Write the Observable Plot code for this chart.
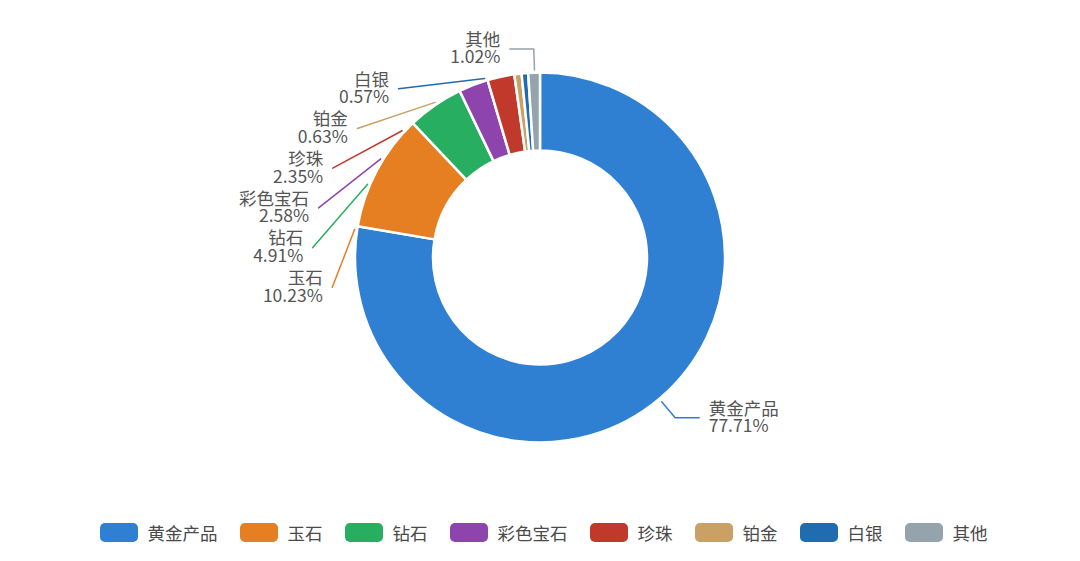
<!DOCTYPE html>
<html>
<head>
<meta charset="utf-8">
<script src="https://cdn.jsdelivr.net/npm/d3@7"></script>
<script src="https://cdn.jsdelivr.net/npm/@observablehq/plot@0.6"></script>
<style>
html, body { margin: 0; padding: 0; background: #fff; }
body { width: 1080px; height: 561px; overflow: hidden; font-family: "Noto Sans CJK SC", "Noto Sans", sans-serif; }
#chart svg { display: block; }
#legend { display: flex; justify-content: center; align-items: center; height: 44px; gap: 22px; padding-left: 7px; font-size: 17.5px; color: #4a4a4a; }
.item { display: flex; align-items: center; gap: 10px; }
.sw { width: 38px; height: 19px; border-radius: 5px; }
</style>
</head>
<body>
<div id="chart"></div>
<div id="legend"></div>
<script>
// ---- data ----
const names = ["黄金产品", "玉石", "钻石", "彩色宝石", "珍珠", "铂金", "白银", "其他"];
const shares = [77.71, 10.23, 4.91, 2.58, 2.35, 0.63, 0.57, 1.02];
const colors = ["#2f7fd2", "#e67e22", "#27ae60", "#8e44ad", "#c0392b", "#c9a165", "#1f6db0", "#95a3ac"];

// ---- layout constants ----
const W = 1080, H = 510, CY = 257.5;
const R = 185, R0 = 107, LEN = 24, LEN2 = 24, DIST = 5, TEXT_GAP = 9.5, GAP = 3, STEP = 39.7;
const fmt = d3.format(".2f");

const arcs = d3.pie().sort(null).value(d => d)(shares);
const items = arcs.map((p, i) => {
  const a = (p.startAngle + p.endAngle) / 2;
  const sx = Math.sin(a), sy = -Math.cos(a);
  const dir = sx >= 0 ? 1 : -1;
  const ex = (R + LEN) * sx, ey = (R + LEN) * sy;
  return {i, name: names[i], dir, sx, sy, mx: R * sx, my: R * sy, ex, ey,
    x3: ex + dir * LEN2, labelX: ex + dir * (LEN2 + DIST), labelY: ey, moved: false};
});

// shift overlapping labels vertically, then realign x on an ellipse
for (const dir of [-1, 1]) {
  const list = items.filter(d => d.dir === dir).sort((a, b) => a.labelY - b.labelY);
  let shifted = false;
  for (let k = 1; k < list.length; k++) {
    const min = list[k - 1].labelY + STEP;
    if (list[k].labelY < min) { list[k].labelY = min; list[k].moved = true; shifted = true; }
  }
  if (!shifted) continue;
  const rA = R + LEN;
  const semis = [{list: [], maxY: 0, rB: rA}, {list: [], maxY: 0, rB: rA}];
  for (const it of list) {
    const semi = semis[it.labelY > 0 ? 1 : 0];
    const dy = Math.abs(it.labelY);
    if (dy >= semi.maxY) {
      const dx = it.labelX - dir * LEN2;
      semi.rB = Math.abs(dx) < rA ? Math.sqrt(dy * dy / (1 - dx * dx / (rA * rA))) : rA;
      semi.maxY = dy;
    }
    semi.list.push(it);
  }
  for (const semi of semis) for (const it of semi.list) {
    const dy = Math.abs(it.labelY);
    const dx = Math.sqrt(Math.max(0, 1 - dy * dy / (semi.rB * semi.rB))) * rA;
    it.labelX = dir * (dx + LEN2);
    it.x3 = it.labelX - dir * DIST;
  }
}

// leader lines
const lineData = [];
for (const it of items) {
  const name = it.name;
  if (it.moved) {
    const P = [it.x3, it.labelY], D = [it.mx - P[0], it.my - P[1]];
    const rho = R + GAP;
    const a = D[0] * D[0] + D[1] * D[1];
    const b = 2 * (P[0] * D[0] + P[1] * D[1]);
    const c = P[0] * P[0] + P[1] * P[1] - rho * rho;
    const t = (-b - Math.sqrt(Math.max(0, b * b - 4 * a * c))) / (2 * a);
    lineData.push({name, x: P[0] + t * D[0], y: P[1] + t * D[1]}, {name, x: P[0], y: P[1]});
  } else {
    lineData.push({name, x: (R + GAP) * it.sx, y: (R + GAP) * it.sy},
                  {name, x: it.ex, y: it.ey},
                  {name, x: it.x3, y: it.labelY});
  }
}

function slicesMark(index, scales) {
  const x = scales.x, y = scales.y;
  const k = x(1) - x(0);
  const arc = d3.arc().innerRadius(R0 * k).outerRadius(R * k);
  const g = d3.create("svg:g").attr("transform", `translate(${x(0)},${y(0)})`);
  g.selectAll("path").data(arcs).join("path")
    .attr("d", arc)
    .attr("fill", d => scales.color(names[d.index]))
    .attr("stroke", "#fff")
    .attr("stroke-width", 2.5)
    .attr("stroke-linejoin", "round");
  return g.node();
}

const labelText = d => `${d.name}\n${fmt(shares[d.i])}%`;
const textOpts = {x: d => d.x3 + d.dir * TEXT_GAP, y: "labelY", text: labelText,
  fontSize: 17.5, lineHeight: 1, fill: "#555"};

const chart = Plot.plot({
  width: W, height: H, margin: 0,
  x: {domain: [-W / 2, W / 2], range: [0, W], axis: null},
  y: {domain: [-CY, H - CY], range: [0, H], axis: null},
  color: {domain: names, range: colors},
  style: {fontFamily: '"Noto Sans CJK SC", "Noto Sans", sans-serif', background: "#fff", overflow: "visible"},
  marks: [
    Plot.line(lineData, {x: "x", y: "y", z: "name", stroke: "name", strokeWidth: 1.5}),
    slicesMark,
    Plot.text(items.filter(d => d.dir < 0), {...textOpts, textAnchor: "end"}),
    Plot.text(items.filter(d => d.dir > 0), {...textOpts, textAnchor: "start"})
  ]
});
document.getElementById("chart").appendChild(chart);

// legend
const color = chart.scale("color");
const legend = d3.select("#legend");
names.forEach((n, i) => {
  const item = legend.append("div").attr("class", "item");
  item.append("div").attr("class", "sw").style("background", color.range[i]);
  item.append("span").text(n);
});
</script>
</body>
</html>
